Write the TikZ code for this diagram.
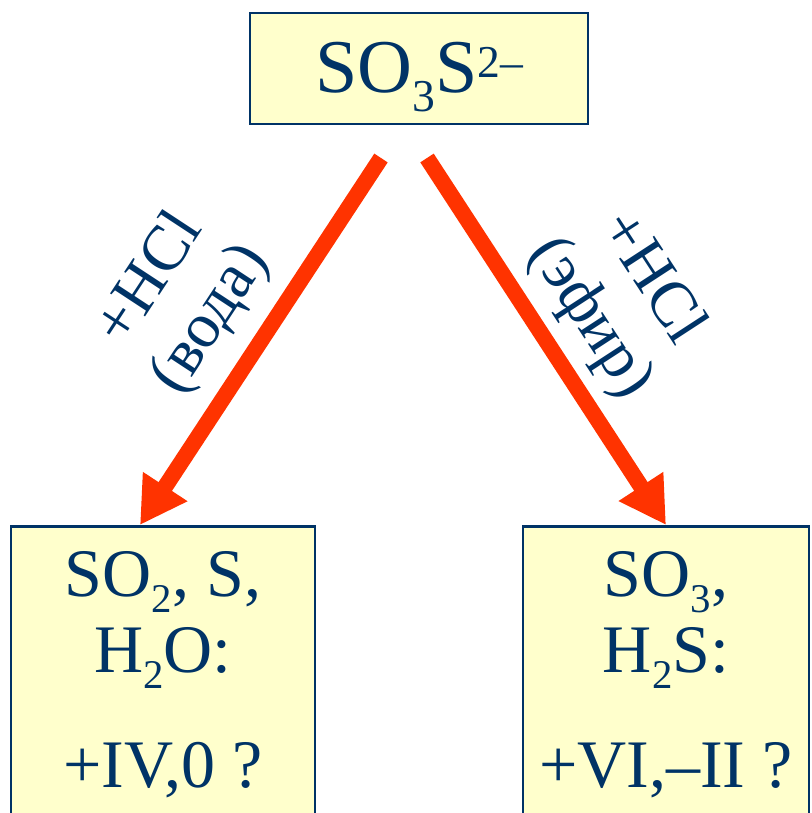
\documentclass[tikz,border=0pt]{standalone}
\usepackage{fontspec}
\setmainfont{Liberation Serif}
\usepackage{graphicx}
\usetikzlibrary{arrows.meta}
\definecolor{inkblue}{HTML}{003366}
\definecolor{boxfill}{HTML}{FFFFCC}
\definecolor{arrowred}{HTML}{FF3300}
\newcommand{\csub}[1]{\raisebox{-0.24em}{\scalebox{0.6}{#1}}}
\newcommand{\csup}[1]{\raisebox{0.2em}{\scalebox{0.6}{#1}}}
\tikzset{
  ionbox/.style={draw=inkblue, fill=boxfill, line width=2.5pt, inner sep=0pt},
  iontext/.style={text=inkblue, font=\fontsize{76}{84}\selectfont},
  boxtext/.style={text=inkblue, font=\fontsize{68}{76}\selectfont, align=center, inner sep=0pt},
  cond/.style={text=inkblue, font=\fontsize{64}{72}\selectfont, align=center, inner sep=0pt},
  flow/.style={draw=arrowred, line width=16pt, line cap=butt, -{Triangle[length=46pt,width=50pt]}},
}

\begin{document}
\begin{tikzpicture}[x=1pt, y=-1pt]
\useasboundingbox (0,0) rectangle (811,813);
\clip (0,0) rectangle (811,813);
% boxes
\node[ionbox, iontext, minimum width=338pt, minimum height=111pt, text height=49pt, text depth=0pt] (ion) at (419,68.5) {SO\csub{3}S\csup{2–}};
\node[ionbox, minimum width=304pt, minimum height=330pt, anchor=north] (water) at (163,525) {};
\node[ionbox, minimum width=286pt, minimum height=330pt, anchor=north] (ether) at (666,525) {};
\node[boxtext, anchor=north] (waterinfo) at (163,551) {SO\csub{2}, S,\\H\csub{2}O:\\[39pt]+IV,0 ?};
\node[boxtext, anchor=north] (etherinfo) at (666,551) {SO\csub{3},\\H\csub{2}S:\\[39pt]+VI,–II ?};
% arrows
\coordinate (fromW) at (381,158);
\coordinate (fromE) at (427,158);
\draw[flow] (fromW) -- node[cond, sloped, pos=0.52, above=16pt] (condW) {+HCl\\(вода)} ([xshift=-23pt]water.north);
\draw[flow] (fromE) -- node[cond, sloped, pos=0.51, above=12pt] (condE) {+HCl\\(эфир)} (ether.north);
\end{tikzpicture}
\end{document}
